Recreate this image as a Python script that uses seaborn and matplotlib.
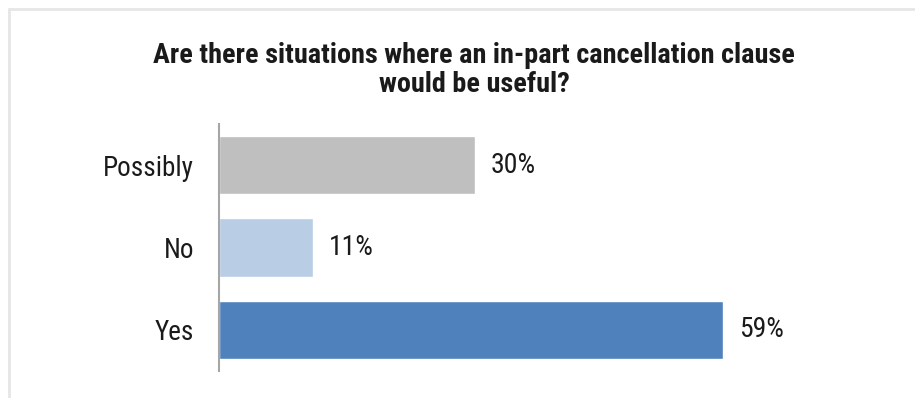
import matplotlib
matplotlib.use("Agg")
import matplotlib.pyplot as plt
from matplotlib.lines import Line2D
import seaborn as sns
import pandas as pd

categories = ["Possibly", "No", "Yes"]
values = [30, 11, 59]
value_labels = ["30%", "11%", "59%"]
colors = ["#BFBFBF", "#B9CDE5", "#4F81BD"]
title = "Are there situations where an in-part cancellation clause\nwould be useful?"

sns.set_theme(style="white")
plt.rcParams["font.family"] = ["Roboto Condensed", "DejaVu Sans"]

df = pd.DataFrame({"answer": categories, "share": values})

fig = plt.figure(figsize=(9.15, 3.98), dpi=100)
ax = fig.add_axes([219 / 915, 1 - 371 / 398, 683 / 915, (371 - 124) / 398])

sns.barplot(data=df, y="answer", x="share", hue="answer", order=categories,
            palette=dict(zip(categories, colors)), width=0.707, legend=False,
            saturation=1, ax=ax)

ax.set_xlim(0, 80)
ax.set_ylim(2.5, -0.5)
ax.set_xlabel("")
ax.set_ylabel("")
ax.set_xticks([])
ax.tick_params(axis="y", length=0, pad=18, labelsize=19.5, labelcolor="#1a1a1a")
for side in ["top", "right", "bottom"]:
    ax.spines[side].set_visible(False)
ax.spines["left"].set_color("#A6A6A6")
ax.spines["left"].set_linewidth(1.5)

for i, (v, lab) in enumerate(zip(values, value_labels)):
    ax.annotate(lab, xy=(v, i), xytext=(16, 0), textcoords="offset pixels",
                va="center", ha="left", fontsize=20, color="#1a1a1a")

# baseline of the second title line
fig.text(474 / 915, 1 - 92 / 398, title, ha="center", va="baseline",
         fontsize=20.3, fontweight="bold", color="#1a1a1a", linespacing=1.1)

# light frame along the top and left edges
fig.add_artist(Line2D([9 / 915, 1], [1 - 9 / 398, 1 - 9 / 398],
                      transform=fig.transFigure, color="#E6E6E6", lw=2))
fig.add_artist(Line2D([9 / 915, 9 / 915], [0, 1 - 9 / 398],
                      transform=fig.transFigure, color="#E6E6E6", lw=2))

fig.savefig("out.png", dpi=100)
